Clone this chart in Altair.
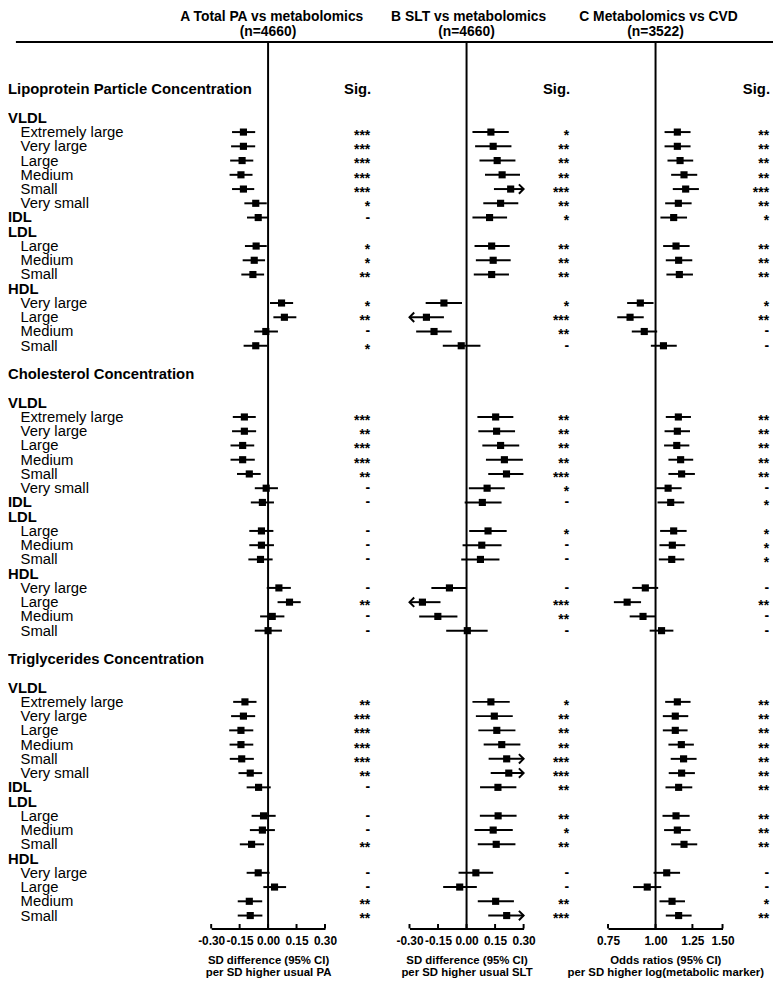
import altair as alt
import pandas as pd

FONT = "Liberation Sans"

# ---------------- structure / text ----------------
sections = ["Lipoprotein Particle Concentration", "Cholesterol Concentration",
            "Triglycerides Concentration"]
vldl_items = ["Extremely large", "Very large", "Large", "Medium", "Small", "Very small"]
ldl_items = ["Large", "Medium", "Small"]
hdl_items = ["Very large", "Large", "Medium", "Small"]

panel_letters = ["A", "B", "C"]
panel_titles = ["Total PA vs metabolomics", "SLT vs metabolomics", "Metabolomics vs CVD"]
panel_n = ["(n=4660)", "(n=4660)", "(n=3522)"]
axis_titles = [["SD difference (95% CI)", "per SD higher usual PA"],
               ["SD difference (95% CI)", "per SD higher usual SLT"],
               ["Odds ratios (95% CI)", "per SD higher log(metabolic marker)"]]
ticks_sd = [-0.30, -0.15, 0.00, 0.15, 0.30]
ticks_or = [0.75, 1.00, 1.25, 1.50]

# ---------------- values (order per section: VLDL x6, IDL, LDL x3, HDL x4) ----------------
pa_est = [-0.130, -0.130, -0.137, -0.143, -0.130, -0.065, -0.052, -0.063, -0.073, -0.080, 0.071, 0.086, -0.012, -0.065,
          -0.125, -0.125, -0.134, -0.134, -0.099, -0.010, -0.030, -0.035, -0.035, -0.040, 0.057, 0.113, 0.022, 0.000,
          -0.122, -0.130, -0.143, -0.143, -0.139, -0.094, -0.050, -0.024, -0.030, -0.087, -0.052, 0.034, -0.099, -0.094]
pa_lo = [-0.190, -0.195, -0.200, -0.203, -0.190, -0.125, -0.111, -0.122, -0.134, -0.141, 0.010, 0.028, -0.073, -0.129,
         -0.186, -0.190, -0.198, -0.198, -0.164, -0.070, -0.091, -0.099, -0.099, -0.104, -0.007, 0.050, -0.042, -0.070,
         -0.184, -0.195, -0.205, -0.203, -0.202, -0.156, -0.113, -0.087, -0.096, -0.149, -0.113, -0.025, -0.160, -0.160]
pa_hi = [-0.068, -0.068, -0.078, -0.082, -0.073, -0.007, 0.002, -0.007, -0.016, -0.021, 0.132, 0.149, 0.052, -0.004,
         -0.065, -0.063, -0.073, -0.070, -0.039, 0.052, 0.031, 0.028, 0.031, 0.024, 0.120, 0.172, 0.086, 0.073,
         -0.061, -0.068, -0.078, -0.078, -0.075, -0.031, 0.014, 0.040, 0.036, -0.021, 0.008, 0.095, -0.031, -0.030]
pa_sig = ["***", "***", "***", "***", "***", "*", "-", "*", "*", "**", "*", "**", "-", "*",
          "***", "**", "***", "***", "**", "-", "-", "-", "-", "-", "-", "**", "-", "-",
          "**", "***", "***", "***", "***", "**", "-", "-", "-", "**", "-", "-", "**", "**"]

slt_est = [0.128, 0.140, 0.161, 0.187, 0.232, 0.179, 0.121, 0.132, 0.140, 0.132, -0.119, -0.211, -0.171, -0.028,
           0.153, 0.158, 0.179, 0.199, 0.210, 0.108, 0.083, 0.113, 0.080, 0.073, -0.090, -0.232, -0.151, 0.004,
           0.128, 0.146, 0.159, 0.185, 0.211, 0.222, 0.165, 0.166, 0.140, 0.156, 0.049, -0.036, 0.153, 0.211]
slt_lo = [0.031, 0.045, 0.068, 0.097, 0.144, 0.088, 0.031, 0.042, 0.049, 0.038, -0.215, -0.320, -0.265, -0.125,
          0.057, 0.062, 0.083, 0.102, 0.114, 0.012, -0.010, 0.014, -0.021, -0.028, -0.185, -0.330, -0.249, -0.107,
          0.031, 0.049, 0.062, 0.090, 0.116, 0.127, 0.071, 0.070, 0.042, 0.059, -0.042, -0.123, 0.059, 0.114]
slt_hi = [0.222, 0.236, 0.257, 0.281, 0.320, 0.272, 0.213, 0.227, 0.232, 0.223, -0.024, -0.119, -0.078, 0.073,
          0.246, 0.255, 0.277, 0.296, 0.299, 0.201, 0.184, 0.211, 0.184, 0.173, 0.000, -0.137, -0.048, 0.111,
          0.227, 0.243, 0.257, 0.283, 0.310, 0.320, 0.262, 0.263, 0.243, 0.257, 0.140, 0.054, 0.249, 0.310]
slt_sig = ["*", "**", "**", "**", "***", "**", "*", "**", "**", "**", "*", "***", "**", "-",
           "**", "**", "**", "**", "***", "*", "-", "*", "-", "-", "-", "***", "**", "-",
           "*", "**", "**", "**", "***", "***", "**", "**", "*", "**", "-", "-", "**", "***"]

cvd_est = [1.141, 1.141, 1.160, 1.188, 1.200, 1.148, 1.116, 1.132, 1.150, 1.155, 0.912, 0.857, 0.934, 1.049,
           1.148, 1.141, 1.137, 1.164, 1.171, 1.079, 1.096, 1.116, 1.107, 1.103, 0.940, 0.842, 0.927, 1.037,
           1.141, 1.127, 1.127, 1.169, 1.185, 1.171, 1.150, 1.132, 1.141, 1.188, 1.070, 0.951, 1.105, 1.150]
cvd_lo = [1.056, 1.056, 1.075, 1.099, 1.110, 1.060, 1.030, 1.047, 1.064, 1.068, 0.842, 0.793, 0.866, 0.972,
          1.064, 1.056, 1.053, 1.081, 1.081, 1.004, 1.012, 1.028, 1.024, 1.020, 0.869, 0.777, 0.855, 0.965,
          1.060, 1.045, 1.045, 1.081, 1.096, 1.083, 1.062, 1.043, 1.053, 1.099, 0.988, 0.873, 1.024, 1.064]
cvd_hi = [1.236, 1.236, 1.256, 1.287, 1.300, 1.244, 1.210, 1.229, 1.249, 1.254, 0.988, 0.931, 1.010, 1.137,
          1.239, 1.232, 1.227, 1.256, 1.269, 1.171, 1.190, 1.207, 1.197, 1.190, 1.016, 0.916, 1.000, 1.114,
          1.236, 1.219, 1.214, 1.261, 1.282, 1.269, 1.249, 1.229, 1.236, 1.287, 1.160, 1.035, 1.195, 1.244]
cvd_sig = ["**", "**", "**", "**", "***", "**", "*", "**", "**", "**", "*", "**", "-", "-",
           "**", "**", "**", "**", "**", "-", "*", "*", "*", "*", "-", "**", "-", "-",
           "**", "**", "**", "**", "**", "**", "**", "**", "**", "**", "-", "-", "*", "**"]

# ---------------- row structure ----------------
label_rows, label_text, label_kind, data_rows = [], [], [], []
for s, sec in enumerate(sections):
    b = 20 * s
    label_rows.append(b); label_text.append(sec); label_kind.append("bold")
    r = b + 2
    label_rows.append(r); label_text.append("VLDL"); label_kind.append("bold")
    for i, it in enumerate(vldl_items):
        label_rows.append(r + 1 + i); label_text.append(it); label_kind.append("item")
        data_rows.append(r + 1 + i)
    label_rows.append(r + 7); label_text.append("IDL"); label_kind.append("bold")
    data_rows.append(r + 7)
    label_rows.append(r + 8); label_text.append("LDL"); label_kind.append("bold")
    for i, it in enumerate(ldl_items):
        label_rows.append(r + 9 + i); label_text.append(it); label_kind.append("item")
        data_rows.append(r + 9 + i)
    label_rows.append(r + 12); label_text.append("HDL"); label_kind.append("bold")
    for i, it in enumerate(hdl_items):
        label_rows.append(r + 13 + i); label_text.append(it); label_kind.append("item")
        data_rows.append(r + 13 + i)

labels_df = pd.DataFrame({"row": label_rows, "text": label_text, "kind": label_kind})

Y = alt.Y("row:Q", scale=alt.Scale(domain=[0, 58], range=[77.1, 911.95], nice=False, zero=False), axis=None)

AXIS_Y = 925

layers = []

# header rule
layers.append(alt.Chart(pd.DataFrame({"d": [0]})).mark_rule(color="black", strokeWidth=2).encode(
    x=alt.value(8), x2=alt.value(773), y=alt.value(29.3)))

# row labels
layers.append(alt.Chart(labels_df).transform_filter("datum.kind == 'bold'").mark_text(
    align="left", baseline="middle", font=FONT, fontSize=15, fontWeight="bold", color="black").encode(
    x=alt.value(0), y=Y, text="text:N"))
layers.append(alt.Chart(labels_df).transform_filter("datum.kind == 'item'").mark_text(
    align="left", baseline="middle", font=FONT, fontSize=15, color="black").encode(
    x=alt.value(12.7), y=Y, text="text:N"))

panels = [
    dict(est=pa_est, lo=pa_lo, hi=pa_hi, sig=pa_sig, dom=[-0.3, 0.3], rng=[205.3, 320.3], typ="linear",
         ref=0.0, ticks=ticks_sd, sigx=366, titlex=266.5, nx=262.7),
    dict(est=slt_est, lo=slt_lo, hi=slt_hi, sig=slt_sig, dom=[-0.3, 0.3], rng=[405.7, 521.0], typ="linear",
         ref=0.0, ticks=ticks_sd, sigx=567, titlex=465.5, nx=463.3),
    dict(est=cvd_est, lo=cvd_lo, hi=cvd_hi, sig=cvd_sig, dom=[0.75, 1.5], rng=[606.3, 722.0], typ="log",
         ref=1.0, ticks=ticks_or, sigx=769, titlex=657.3, nx=654.3),
]

for i, p in enumerate(panels):
    sc = alt.Scale(type=p["typ"], domain=p["dom"], range=p["rng"], nice=False, zero=False)
    df = pd.DataFrame({"row": data_rows, "est": p["est"], "lo": p["lo"], "hi": p["hi"], "sig": p["sig"]})
    df["lo_c"] = df["lo"].clip(lower=p["dom"][0])
    df["hi_c"] = df["hi"].clip(upper=p["dom"][1])
    df["arr_r"] = df["hi"] > p["dom"][1]
    df["arr_l"] = df["lo"] < p["dom"][0]

    axis = alt.Axis(orient="bottom", values=p["ticks"], title=axis_titles[i], ticks=False, tickSize=0,
                    grid=False, domainColor="black", domainWidth=2,
                    labelExpr="(datum.value < 0 ? '-' : '') + format(abs(datum.value), '.2f')",
                    labelFont=FONT, labelFontSize=12, labelFontWeight="bold", labelColor="black",
                    labelPadding=7, labelFlush=False, labelOverlap=False,
                    titleFont=FONT, titleFontSize=11.5, titleFontWeight="bold", titleColor="black",
                    titlePadding=8, titleLineHeight=12.5)

    # reference line
    layers.append(alt.Chart(pd.DataFrame({"v": [p["ref"]]})).mark_rule(color="black", strokeWidth=2).encode(
        x=alt.X("v:Q", scale=sc, axis=None), y=alt.value(29.3), y2=alt.value(AXIS_Y)))
    # upward ticks
    layers.append(alt.Chart(pd.DataFrame({"v": p["ticks"]})).mark_rule(color="black", strokeWidth=2).encode(
        x=alt.X("v:Q", scale=sc, axis=None), y=alt.value(AXIS_Y - 4.5), y2=alt.value(AXIS_Y)))
    # CI lines (carry axis)
    layers.append(alt.Chart(df).mark_rule(color="black", strokeWidth=2).encode(
        x=alt.X("lo_c:Q", scale=sc, axis=axis), x2="hi_c:Q", y=Y))
    # squares
    layers.append(alt.Chart(df).mark_square(size=52, color="black", opacity=1).encode(
        x=alt.X("est:Q", scale=sc, axis=None), y=Y))
    # arrows
    if df["arr_r"].any():
        layers.append(alt.Chart(df).transform_filter("datum.arr_r").mark_point(
            shape="M-1,-1L0,0L-1,1", size=90, filled=False, color="black", strokeWidth=2, opacity=1).encode(
            x=alt.X("hi_c:Q", scale=sc, axis=None), y=Y))
    if df["arr_l"].any():
        layers.append(alt.Chart(df).transform_filter("datum.arr_l").mark_point(
            shape="M1,-1L0,0L1,1", size=90, filled=False, color="black", strokeWidth=2, opacity=1).encode(
            x=alt.X("lo_c:Q", scale=sc, axis=None), y=Y))
    # significance
    layers.append(alt.Chart(df).transform_filter("datum.sig != '-'").mark_text(
        align="right", baseline="alphabetic", dy=8, font=FONT, fontSize=14, fontWeight="bold", color="black").encode(
        x=alt.value(p["sigx"]), y=Y, text="sig:N"))
    layers.append(alt.Chart(df).transform_filter("datum.sig == '-'").mark_text(
        align="right", baseline="alphabetic", dy=4, font=FONT, fontSize=14, fontWeight="bold", color="black").encode(
        x=alt.value(p["sigx"]), y=Y, text="sig:N"))
    # Sig. header
    layers.append(alt.Chart(pd.DataFrame({"row": [0], "t": ["Sig."]})).mark_text(
        align="right", baseline="middle", font=FONT, fontSize=15, fontWeight="bold", color="black").encode(
        x=alt.value(p["sigx"] + 1), y=Y, text="t:N"))
    # panel titles
    layers.append(alt.Chart(pd.DataFrame({"t": [panel_letters[i] + " " + panel_titles[i]]})).mark_text(
        align="center", baseline="middle", font=FONT, fontSize=14, fontWeight="bold", color="black").encode(
        x=alt.value(p["titlex"]), y=alt.value(4.5), text="t:N"))
    layers.append(alt.Chart(pd.DataFrame({"t": [panel_n[i]]})).mark_text(
        align="center", baseline="middle", font=FONT, fontSize=14, fontWeight="bold", color="black").encode(
        x=alt.value(p["nx"]), y=alt.value(19.5), text="t:N"))

chart = alt.layer(*layers).resolve_scale(x="independent").properties(
    width=773, height=AXIS_Y,
    autosize=alt.AutoSizeParams(type="none"),
    padding={"left": 0, "top": 0, "right": 0, "bottom": 49},
    background="white",
).configure_view(stroke=None)

chart.save("out.html", embed_options={"renderer": "svg", "actions": False})
